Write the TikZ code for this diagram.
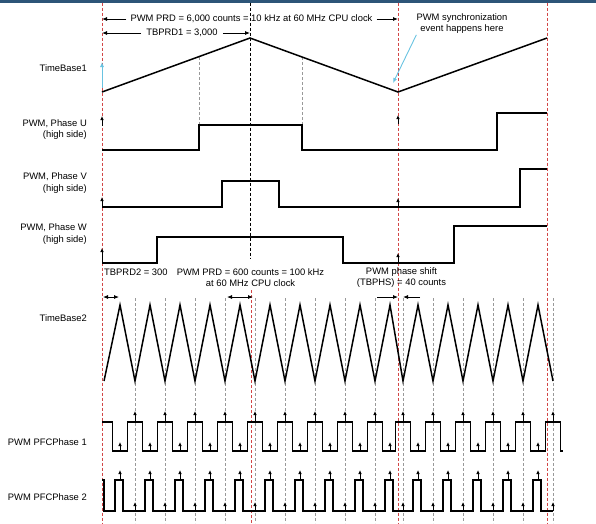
\documentclass[tikz,border=0pt]{standalone}
\usepackage{fontspec}
\setmainfont{Liberation Sans}
\usetikzlibrary{arrows.meta}

\definecolor{syncred}{RGB}{210,70,70}
\definecolor{syncblue}{RGB}{105,195,225}
\definecolor{barblue}{RGB}{45,85,120}

\tikzset{
  wave/.style      = {line width=1.5pt, line join=miter},
  reddash/.style   = {syncred, line width=0.6pt, dash pattern=on 3pt off 2pt},
  greydash/.style  = {gray!80, line width=0.6pt, dash pattern=on 3pt off 2pt},
  blackdash/.style = {black, line width=0.8pt, dash pattern=on 3pt off 2pt},
  tick/.style      = {-{Latex[length=4pt,width=3.6pt]}, line width=0.8pt},
  dim/.style       = {-{Latex[length=5pt,width=4pt]}, line width=0.8pt},
  dimboth/.style   = {{Latex[length=5pt,width=4pt]}-{Latex[length=5pt,width=4pt]}, line width=0.8pt},
  syncarrow/.style = {-{Latex[length=5pt,width=4pt]}, syncblue, line width=0.9pt},
  lbl/.style       = {font=\fontsize{9.4}{11.5}\selectfont, inner sep=1pt},
  sig/.style       = {lbl, anchor=east, align=right}
}

\begin{document}
\begin{tikzpicture}
[
    x=1pt, y=-1pt,
    every node/.style = {lbl}
  ]
\useasboundingbox (0,0) rectangle (596,523);
\fill[barblue] (0,0) rectangle (596,2.5);

% time marks
\coordinate (tL) at (102,0);
\coordinate (tM) at (250,0);
\coordinate (tS) at (398,0);
\coordinate (tP) at (403,0);
\coordinate (tR) at (547,0);

\foreach \c in {102,398,547}
  \draw[reddash] (\c,2.5) -- (\c,523);
\draw[blackdash] (250,2.5) -- (250,258);
\draw[reddash] (251,290) -- (251,523);
\draw[greydash] (199,57) -- (199,125);
\draw[greydash] (302,57) -- (302,125);
\foreach \c in {135,165,195,225,255,285,315,345,375,403,433,463,493,523,553}
  \draw[greydash] (\c,298) -- (\c,523);

% signal names
\node[sig] (tb1)  at (88,68)    {TimeBase1};
\node[sig] (phU)  at (88,129.5) {PWM, Phase U\\(high side)};
\node[sig] (phV)  at (88,183)   {PWM, Phase V\\(high side)};
\node[sig] (phW)  at (88,234)   {PWM, Phase W\\(high side)};
\node[sig] (tb2)  at (88,318)   {TimeBase2};
\node[sig] (pfc1) at (88,442)   {PWM PFCPhase 1};
\node[sig] (pfc2) at (88,497)   {PWM PFCPhase 2};

% top annotations
\node (prd1)   at (251.5,19) {PWM PRD = 6,000 counts = 10 kHz at 60 MHz CPU clock};
\node (tbprd1) at (182,33)   {TBPRD1 = 3,000};
\node[align=center] (sync) at (462,23.5) {PWM synchronization\\event happens here};
\draw[dim] ([xshift=-3pt]prd1.west) -- (prd1.west -| tL);
\draw[dim] ([xshift=3pt]prd1.east) -- (prd1.east -| tS);
\draw[dim] ([xshift=-4pt]tbprd1.west) -- (tbprd1.west -| tL);
\draw[dim] ([xshift=4pt]tbprd1.east) -- (tbprd1.east -| tM);
\coordinate (syncpt) at (393,83);
\draw[syncarrow] ([xshift=1pt]sync.south west) -- (syncpt);

% TimeBase1
\draw[wave] (102,92) -- (250,38) -- (398,92) -- (547,38);
\draw[syncarrow] (102,88) -- (102,62);

% three phases
\draw[wave] (102,150) -- (199,150) -- (199,125) -- (302,125) -- (302,150)
  -- (497,150) -- (497,113) -- (547,113);
\draw[wave] (102,207) -- (222,207) -- (222,181) -- (279,181) -- (279,207)
  -- (520,207) -- (520,169) -- (547,169);
\draw[wave] (102,263) -- (157,263) -- (157,237) -- (343,237) -- (343,263)
  -- (454,263) -- (454,226) -- (547,226);
\draw[tick] (102,126) -- (102,116);
\draw[tick] (398,124) -- (398,115);
\draw[tick] (102,206) -- (102,197);
\draw[tick] (398,206) -- (398,198);
\draw[tick] (102,262) -- (102,248);
\draw[tick] (398,262) -- (398,253);

% middle annotations
\node[anchor=west] (tbprd2) at (103,272) {TBPRD2 = 300};
\node[align=center] (prd2)  at (250.5,277.5) {PWM PRD = 600 counts = 100 kHz\\at 60 MHz CPU clock};
\node[align=center] (shift) at (401.5,277.5) {PWM phase shift\\(TBPHS) = 40 counts};
\coordinate (d2a) at (103,297);
\coordinate (d2b) at (119,297);
\coordinate (p2a) at (227,297);
\coordinate (p2b) at (253,297);
\coordinate (s2a) at (377,297);
\coordinate (s2b) at (420,297);
\draw[dimboth] (d2a) -- (d2b);
\draw[dimboth] (p2a) -- (p2b);
\draw[dim] (s2a) -- (s2a -| tS);
\draw[dim] (s2b) -- (s2b -| tP);

% TimeBase2
\draw[wave] (104,381)
  \foreach \p in {120,150,...,360} { -- (\p,305) -- (\p+15,381) }
  -- (390,305) -- (403,381)
  \foreach \p in {418,448,...,538} { -- (\p,305) -- (\p+15,381) };

% PFC phases
\draw[wave] (102,422) -- (112.5,422) -- (112.5,451)
  \foreach \c in {135,165,195,225,255,285,315,345,375,403,433,463,493,523,553}
    { -- (\c-7.5,451) -- (\c-7.5,422) -- (\c+7.5,422) -- (\c+7.5,451) }
  -- (563,451);
\draw[wave] (102,480) -- (104,480) -- (104,511)
  \foreach \p in {120,150,180,210,240,270,300,330,360,390,418,448,478,508,538}
    { -- (\p-5,511) -- (\p-5,480) -- (\p+3,480) -- (\p+3,511) }
  -- (553,511);
\foreach \c in {135,165,195,225,255,285,315,345,375,403,433,463,493,523,553} {
  \draw[tick] (\c,422) -- (\c,411);
  \draw[tick] (\c,511) -- (\c,502);
}
\foreach \p in {120,150,180,210,240,270,300,330,360,390,418,448,478,508,538} {
  \draw[tick] (\p,451) -- (\p,442);
  \draw[tick] (\p,480) -- (\p,470);
}
\end{tikzpicture}
\end{document}
